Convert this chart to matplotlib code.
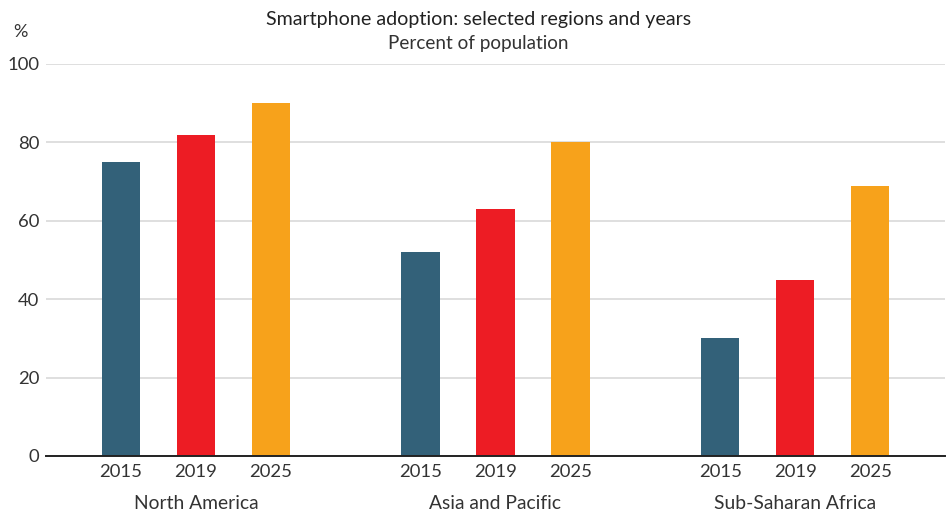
import matplotlib
matplotlib.use("Agg")
import matplotlib.pyplot as plt

regions = ["North America", "Asia and Pacific", "Sub-Saharan Africa"]
years = ["2015", "2019", "2025"]
adoption_2015 = [75, 52, 30]
adoption_2019 = [82, 63, 45]
adoption_2025 = [90, 80, 69]
colors = ["#336179", "#ED1C24", "#F7A21B"]

plt.rcParams["font.family"] = ["Lato", "DejaVu Sans"]
TXT = "#333333"

fig = plt.figure(figsize=(9.51, 5.14), dpi=100)
ax = fig.add_axes([46 / 951, 58 / 514, 899 / 951, 392 / 514])

series = [adoption_2015, adoption_2019, adoption_2025]
xs, labels = [], []
for j, vals in enumerate(series):
    pos = [g * 4 + j for g in range(len(regions))]
    ax.bar(pos, vals, width=0.51, color=colors[j], zorder=3)
for g in range(len(regions)):
    for j in range(len(years)):
        xs.append(g * 4 + j)
        labels.append(years[j])

ax.set_xlim(-1.0, 11.0)
ax.set_ylim(0, 100)
ax.set_yticks(range(0, 101, 20))
ax.set_xticks(xs)
ax.set_xticklabels(labels)
ax.tick_params(axis="both", length=0, labelsize=13.3, colors=TXT)
ax.tick_params(axis="x", pad=6)
ax.tick_params(axis="y", pad=5)
ax.grid(axis="y", color="#d9d9d9", linewidth=1.2, zorder=0)
for s in ["top", "right", "left"]:
    ax.spines[s].set_visible(False)
ax.spines["bottom"].set_color("#222222")
ax.spines["bottom"].set_linewidth(1.4)
ax.spines["bottom"].set_zorder(4)

for g, name in enumerate(regions):
    ax.text(g * 4 + 1, -12.2, name, ha="center", va="center", fontsize=13.9,
            color=TXT, transform=ax.transData)

fig.text(0.503, 1 - 20 / 514, "Smartphone adoption: selected regions and years",
         ha="center", va="center", fontsize=14.1, color="#222222")
fig.text(0.503, 1 - 44 / 514, "Percent of population",
         ha="center", va="center", fontsize=13.6, color=TXT)
fig.text(20 / 951, 1 - 32 / 514, "%", ha="center", va="center", fontsize=13, color=TXT)

fig.savefig("out.png", dpi=100)
